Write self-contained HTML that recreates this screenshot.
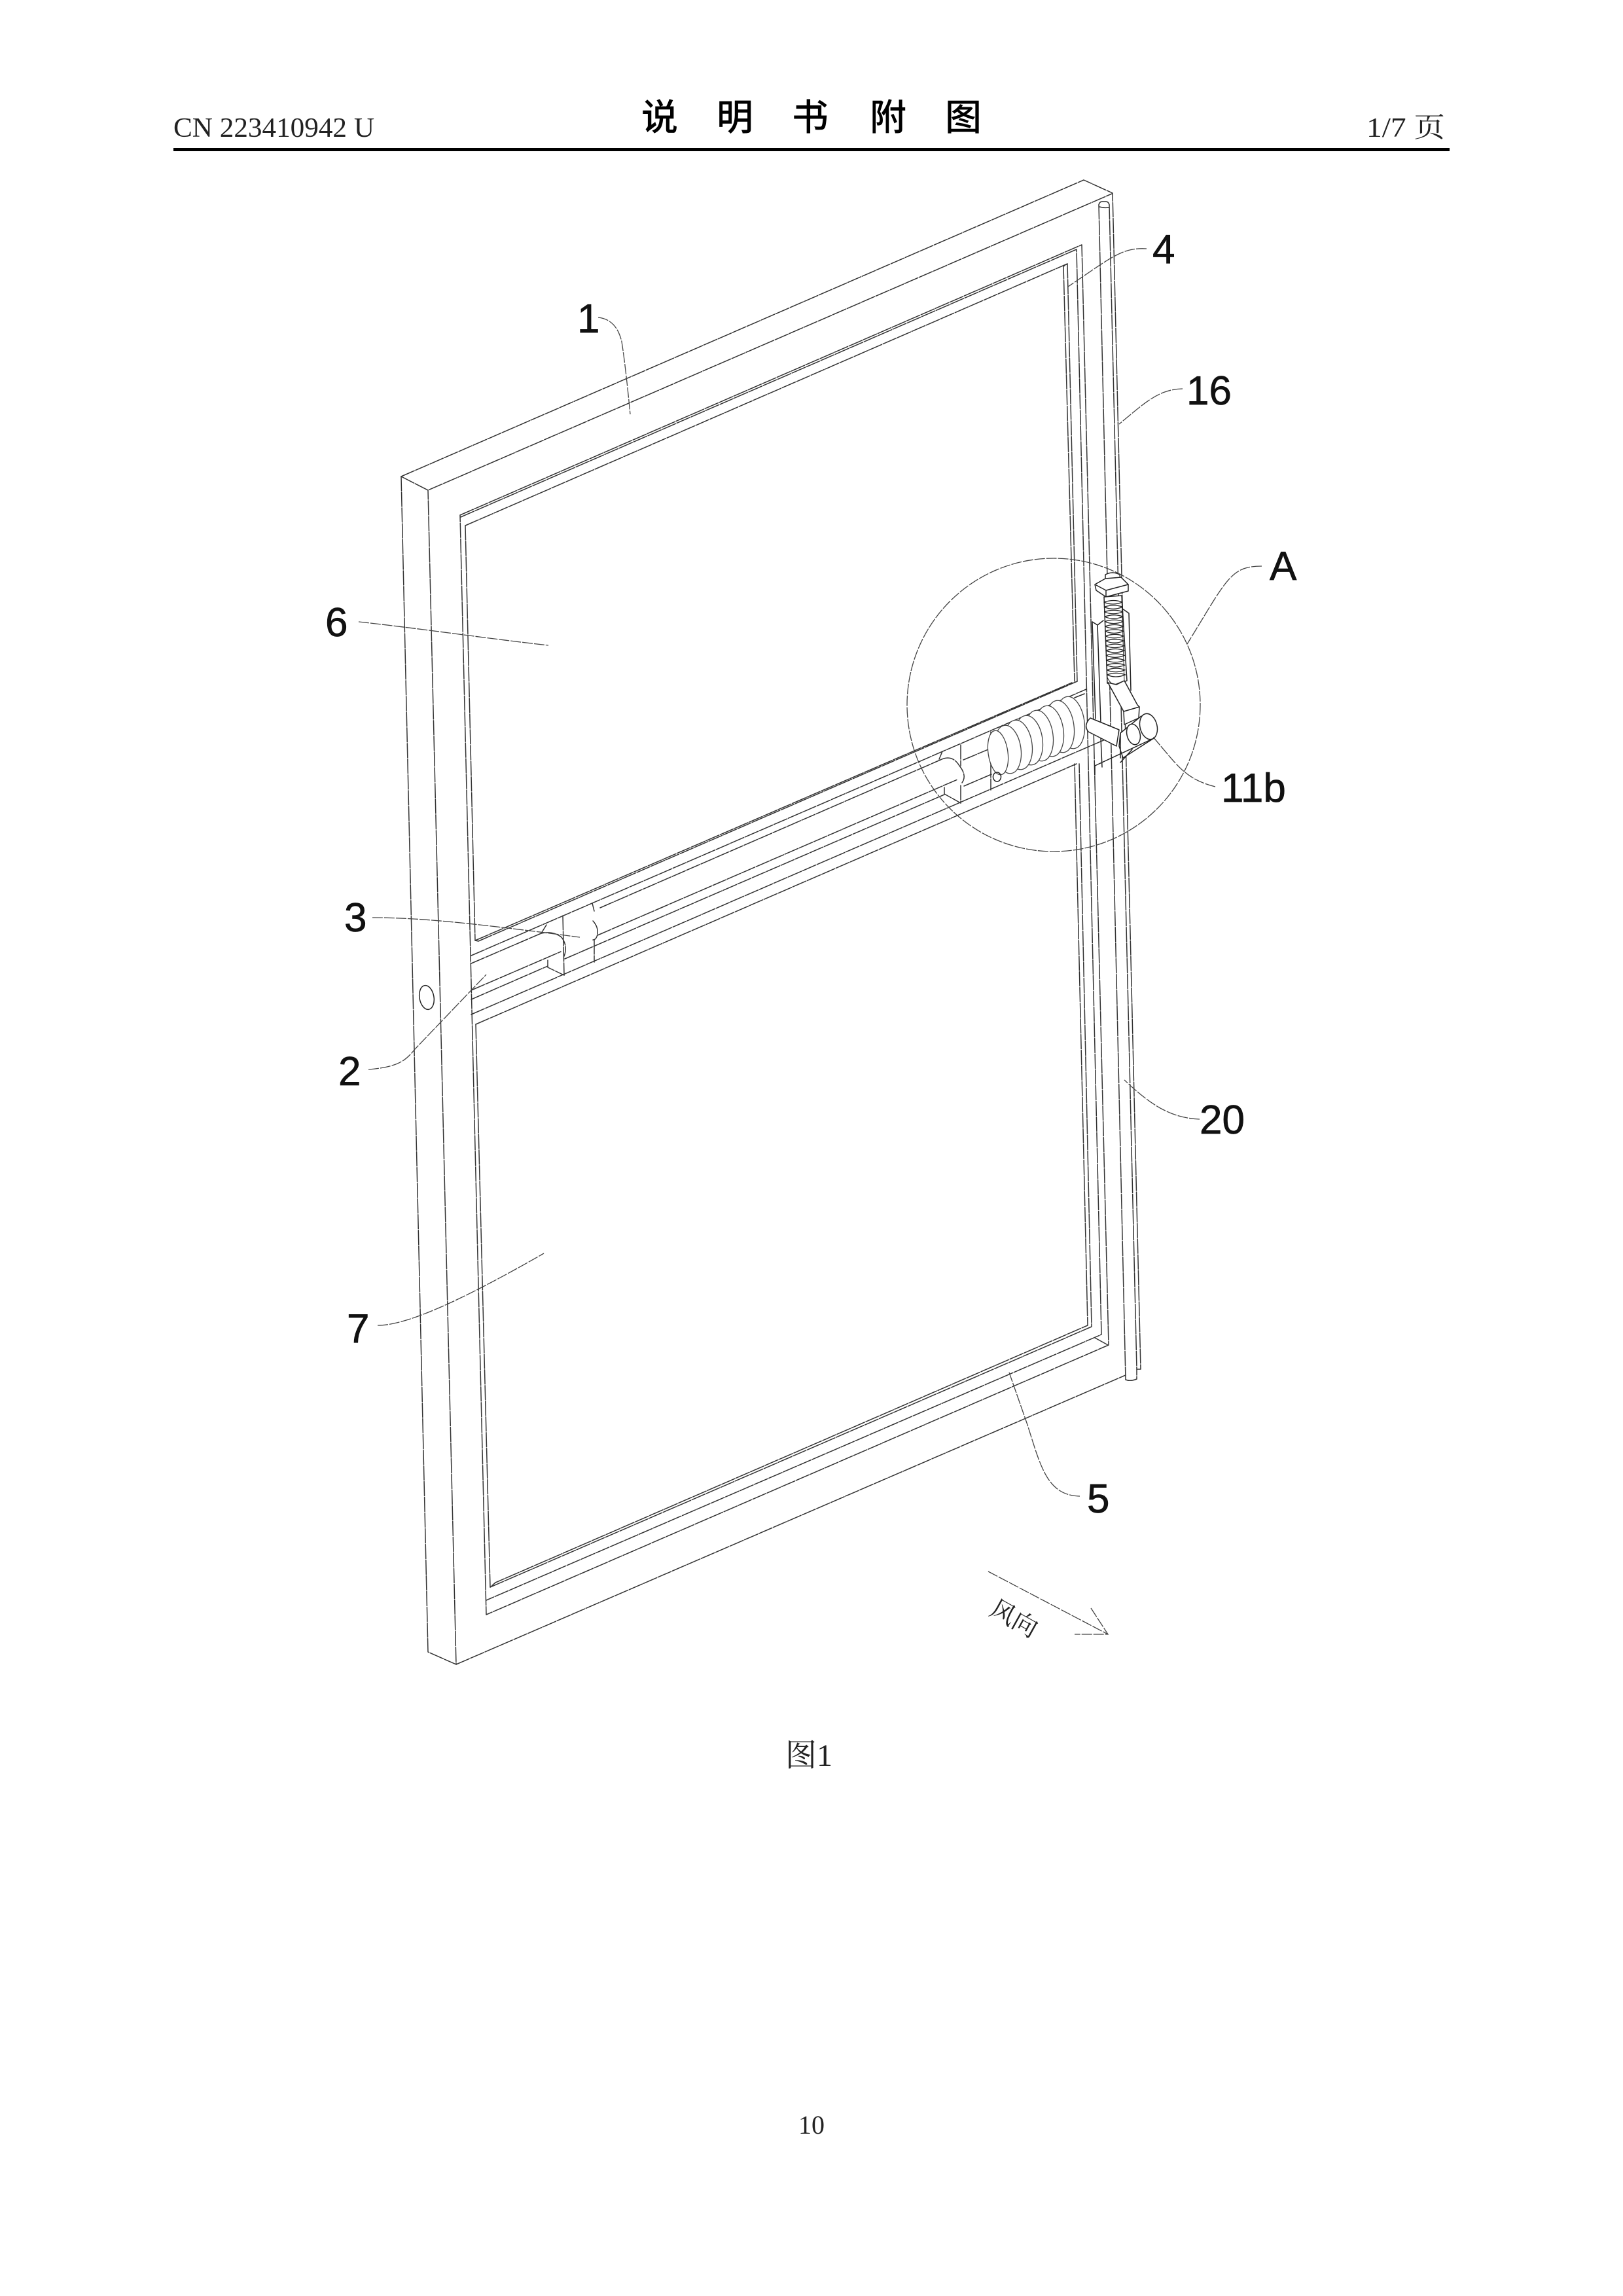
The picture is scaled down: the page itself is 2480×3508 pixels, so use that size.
<!DOCTYPE html>
<html><head><meta charset="utf-8"><style>
html,body{margin:0;padding:0;background:#fff}
svg{display:block}
.l{fill:none;stroke:#333;stroke-width:1.5;stroke-linejoin:round;stroke-linecap:round;stroke-dasharray:22 2}
.m{fill:none;stroke:#222;stroke-width:1.5;stroke-linejoin:round;stroke-linecap:round}
.t{fill:none;stroke:#444;stroke-width:1.3;stroke-dasharray:16 2}
.w{fill:#fff;stroke:#222;stroke-width:1.5;stroke-linejoin:round}
.n{font-family:"Liberation Sans",sans-serif;font-size:62px;fill:#111;stroke:#111;stroke-width:.7}
.s{font-family:"Liberation Serif","Noto Serif CJK SC",serif;fill:#222}
</style></head><body>
<svg xmlns="http://www.w3.org/2000/svg" width="2480" height="3508" viewBox="0 0 2480 3508">
<rect width="2480" height="3508" fill="#fff"/>
<!-- header -->
<text class="s" x="265" y="209" font-size="42" textLength="307" lengthAdjust="spacingAndGlyphs">CN 223410942 U</text>
<text x="980 1095 1210 1329 1444" y="199" font-family="'Liberation Sans','Noto Sans CJK SC',sans-serif" font-size="56" font-weight="500" fill="#000">说明书附图</text>
<text class="s" x="2088" y="209" font-size="42" textLength="120" lengthAdjust="spacingAndGlyphs">1/7 页</text>
<rect x="265" y="226" width="1950" height="5" fill="#000"/>
<!-- frame -->
<g class="l">
<path d="M613 728L1656 275L1700 295L1743 2092L1737 2092L1737 2107Q1727 2111 1720 2108"/>
<path d="M613 728L654 749L1699 296"/>
<path d="M613 728L654 2524L697 2543L654 749"/>
<path d="M697 2543L1720 2101"/>
<!-- inner top -->
<path d="M703 787L1653 374L1694 2055L743 2467L703 787"/>
<path d="M704 790L1645 381L1683 2039L743 2445"/>
<path d="M711 803L1631 403L1625 407L1642 1041"/>
<path d="M1631 403L1646 1041"/>
<path d="M711 803L726 1437"/>
<path d="M727 1565L749 2425L757 2418L1662 2025L1642 1167"/>
<path d="M749 2425L1668 2027L1649 1167"/>
<path d="M1673 2044L1693 2055"/>
<!-- right rail -->
<path d="M1679 313L1720 2108"/>
<path d="M1695 313L1737 2092"/>
<path d="M1679 313Q1680 307 1687 308Q1694 307 1695 313M1680 316Q1687 318 1694 317"/>
<!-- crossbar -->
<path d="M726 1437L1638 1043M731 1438L1646 1041M726 1437L731 1438"/>
<path d="M720 1460L1660 1053"/>
<path d="M720 1472L827 1426M917 1387L1437 1161"/>
<path d="M720 1513L857 1454M913 1429L1463 1191"/>
<path d="M720 1527L837 1476M863 1465L1443 1214M1473 1201L1515 1183"/>
<path d="M720 1550L1700 1125"/>
<path d="M727 1565L1645 1167"/>
<!-- block 1 -->
<path d="M860 1399L862 1490M905 1380L908 1392M908 1436L908 1470"/>
<path d="M837 1467L837 1478L862 1490"/>
<path d="M827 1426Q845 1422 858 1432Q868 1445 862 1461"/>
<path d="M906 1407Q916 1418 912 1431Q910 1436 906 1436"/>
<path d="M827 1426L835 1413"/>
<!-- block 2 -->
<path d="M1468 1138L1468 1170M1468 1200L1468 1227M1514 1118L1514 1207"/>
<path d="M1443 1203L1443 1213L1468 1227"/>
<path d="M1437 1161Q1455 1152 1466 1170Q1478 1185 1470 1196"/>
<path d="M1472 1161L1515 1143"/>
<path d="M1435 1160L1440 1148"/>
</g>
<!-- hole -->
<ellipse class="m" cx="652" cy="1524" rx="11" ry="18.5" transform="rotate(-10 652 1524)"/>
<!-- horizontal spring -->
<g class="w" style="stroke:#444;stroke-width:1.3">
<ellipse cx="1636" cy="1104" rx="21" ry="40" transform="rotate(-8 1636 1104)"/>
<ellipse cx="1620" cy="1110" rx="21" ry="40" transform="rotate(-8 1620 1110)"/>
<ellipse cx="1604" cy="1117" rx="21" ry="39" transform="rotate(-8 1604 1117)"/>
<ellipse cx="1588" cy="1124" rx="21" ry="39" transform="rotate(-8 1588 1124)"/>
<ellipse cx="1572" cy="1131" rx="21" ry="38" transform="rotate(-8 1572 1131)"/>
<ellipse cx="1556" cy="1138" rx="21" ry="38" transform="rotate(-8 1556 1138)"/>
<ellipse cx="1540" cy="1145" rx="20" ry="37" transform="rotate(-8 1540 1145)"/>
<ellipse cx="1525" cy="1150" rx="15" ry="34" transform="rotate(-8 1525 1150)"/>
</g>
<path class="m" d="M1523 1180a6 7 0 1 0 1 0"/>
<path class="m" d="M1642 1066L1657 1060"/>
<!-- vertical hardware -->
<g class="m">
<path d="M1669 950L1674 1098M1677 955L1682 1105M1669 950L1677 955L1686 948"/>
<path d="M1715 930L1725 937L1728 1055"/>
<path d="M1681 1105L1684 1172M1673 1170L1673 1184"/>
</g>
<path class="w" d="M1689 878Q1700 872 1711 878L1713 893L1689 893Z"/>
<path class="w" d="M1673 893L1689 884L1713 882L1724 893L1724 903L1690 912L1675 902Z"/>
<path class="m" d="M1675 894L1690 902L1724 893M1690 902L1690 912"/>
<path class="w" d="M1687 912L1714 910L1722 1040L1706 1046L1692 1044Z" stroke="none"/>
<path class="m" style="stroke-width:1" d="M1687 915L1692 1035Q1698 1048 1706 1045L1718 1040L1714 912"/>
<path class="m" style="stroke-width:1.3" d="M1687 920q13 6 28 0q-13 -5 -28 0m.3 7.4q13 6 28 0q-13 -5 -28 0m.3 7.4q13 6 28 0q-13 -5 -28 0m.3 7.4q13 6 28 0q-13 -5 -28 0m.3 7.4q13 6 28 0q-13 -5 -28 0m.3 7.4q13 6 28 0q-13 -5 -28 0m.3 7.4q13 6 28 0q-13 -5 -28 0m.3 7.4q13 6 28 0q-13 -5 -28 0m.3 7.4q13 6 28 0q-13 -5 -28 0m.3 7.4q13 6 28 0q-13 -5 -28 0m.3 7.4q13 6 28 0q-13 -5 -28 0m.3 7.4q13 6 28 0q-13 -5 -28 0m.3 7.4q13 6 28 0q-13 -5 -28 0m.3 7.4q13 6 28 0q-13 -5 -28 0m.3 7.4q13 6 28 0q-13 -5 -28 0m.3 7.4q13 6 28 0q-13 -5 -28 0"/>
<!-- lever -->
<path class="w" d="M1693 1043L1717 1087L1718 1107L1740 1097L1741 1080L1738 1077L1718 1040L1706 1046Z"/>
<path class="m" d="M1717 1087L1741 1080"/>
<path class="w" d="M1666 1097L1710 1115L1706 1140L1663 1118Q1655 1108 1666 1097Z"/>
<path class="w" d="M1712 1120L1744 1094L1763 1128L1716 1158L1710 1140Z"/>
<ellipse class="w" cx="1755" cy="1110" rx="13" ry="20" transform="rotate(-14 1755 1110)"/>
<ellipse class="w" cx="1732" cy="1122" rx="10" ry="16" transform="rotate(-14 1732 1122)"/>
<path class="m" d="M1673 1170L1763 1128M1712 1120L1712 1158M1730 1145L1712 1165"/>
<!-- detail circle -->
<circle class="t" cx="1610" cy="1077" r="224"/>
<!-- leaders -->
<g class="t">
<path d="M914 485Q942 488 950 522Q956 560 963 633"/>
<path d="M1752 380C1715 378 1700 392 1632 438"/>
<path d="M1807 594C1770 595 1750 615 1710 648"/>
<path d="M1928 865C1880 865 1875 885 1814 984"/>
<path d="M1857 1202C1810 1190 1800 1170 1761 1125"/>
<path d="M569 1402C640 1402 720 1410 886 1432"/>
<path d="M563 1634C610 1630 620 1620 634 1603L743 1489"/>
<path d="M548 950C640 960 740 975 838 986"/>
<path d="M577 2025C620 2025 700 1990 831 1915"/>
<path d="M1833 1710C1790 1708 1760 1690 1718 1650"/>
<path d="M1650 2286C1600 2285 1590 2240 1570 2177L1542 2097"/>
</g>
<!-- labels -->
<text class="n" x="882" y="508">1</text>
<text class="n" x="1761" y="402">4</text>
<text class="n" x="1813" y="618">16</text>
<text class="n" x="1940" y="886">A</text>
<text class="n" x="1866" y="1225">11b</text>
<text class="n" x="497" y="972">6</text>
<text class="n" x="526" y="1423">3</text>
<text class="n" x="517" y="1658">2</text>
<text class="n" x="1833" y="1732">20</text>
<text class="n" x="530" y="2051">7</text>
<text class="n" x="1661" y="2311">5</text>
<!-- wind arrow -->
<path class="t" d="M1510 2401L1693 2497M1667 2457L1693 2497L1642 2497"/>
<text x="0" y="0" transform="translate(1510 2466) rotate(29)" font-family="'Liberation Serif','Noto Serif CJK SC',serif" font-size="38" fill="#222">风向</text>
<!-- caption and page number -->
<text x="1236" y="2698" text-anchor="middle" font-family="'Liberation Serif','Noto Serif CJK SC',serif" font-size="48" fill="#222">图1</text>
<text class="s" x="1240" y="3260" text-anchor="middle" font-size="40">10</text>
</svg>
</body></html>
